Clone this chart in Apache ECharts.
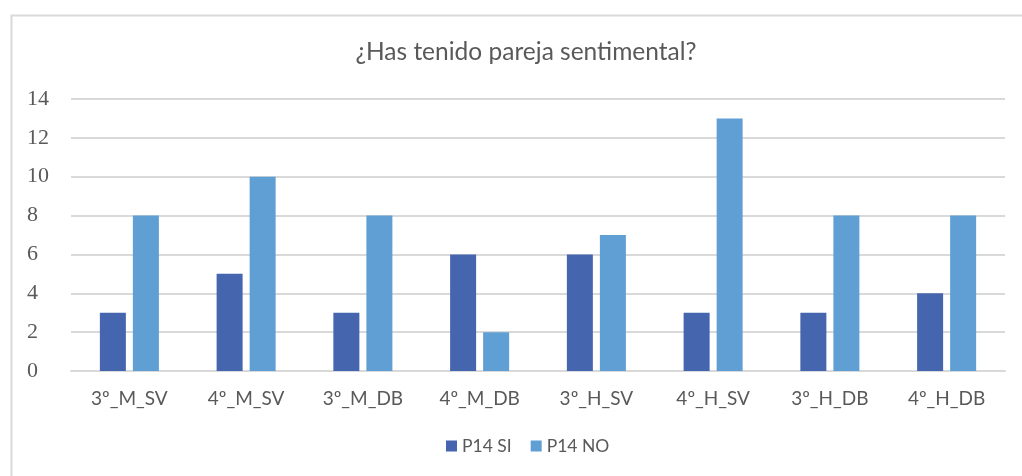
<!DOCTYPE html>
<html>
<head>
<meta charset="utf-8">
<script src="https://cdn.jsdelivr.net/npm/echarts@6/dist/echarts.min.js"></script>
<style>
  html, body { margin: 0; padding: 0; background: #fff; }
  #chart { width: 1022px; height: 476px; }
</style>
</head>
<body>
<div id="chart"></div>
<script>
const categories = ["3º_M_SV", "4º_M_SV", "3º_M_DB", "4º_M_DB", "3º_H_SV", "4º_H_SV", "3º_H_DB", "4º_H_DB"];
const siValues = [3, 5, 3, 6, 6, 3, 3, 4];
const noValues = [8, 10, 8, 2, 7, 13, 8, 8];
const seriesNames = ["P14 SI", "P14 NO"];

const textGrey = "#595959";
const chart = echarts.init(document.getElementById("chart"));

chart.setOption({
  animation: false,
  color: ["#4565AE", "#5F9FD4"],
  graphic: [
    {
      type: "rect",
      left: 9, top: 13,
      shape: { width: 1040, height: 500 },
      style: { fill: "none", stroke: "#d9d9d9", lineWidth: 2 },
      silent: true
    }
  ],
  title: {
    text: "¿Has tenido pareja sentimental?",
    left: 521,
    top: 35,
    textAlign: "center",
    textStyle: { fontFamily: "Lato", fontSize: 24.5, fontWeight: "normal", color: textGrey }
  },
  legend: {
    data: seriesNames,
    bottom: 16,
    left: 441,
    itemWidth: 11,
    itemHeight: 11,
    itemGap: 19,
    icon: "rect",
    textStyle: { fontFamily: "Lato", fontSize: 17.5, color: textGrey }
  },
  grid: { left: 71, right: 17, top: 99, bottom: 105 },
  xAxis: {
    type: "category",
    data: categories,
    axisLine: { lineStyle: { color: "#d9d9d9", width: 2 } },
    axisTick: { show: false },
    axisLabel: { fontFamily: "Lato", fontSize: 19, color: textGrey, margin: 18 }
  },
  yAxis: {
    type: "value",
    min: 0,
    max: 14,
    interval: 2,
    axisLine: { show: false },
    axisTick: { show: false },
    splitLine: { lineStyle: { color: "#d9d9d9", width: 2 } },
    axisLabel: { fontFamily: "Liberation Serif", fontSize: 22, color: textGrey, margin: 44, align: "left" }
  },
  series: [
    { name: seriesNames[0], type: "bar", data: siValues, barWidth: 26, barGap: "27%" },
    { name: seriesNames[1], type: "bar", data: noValues, barWidth: 26, barGap: "27%" }
  ]
});
</script>
</body>
</html>
